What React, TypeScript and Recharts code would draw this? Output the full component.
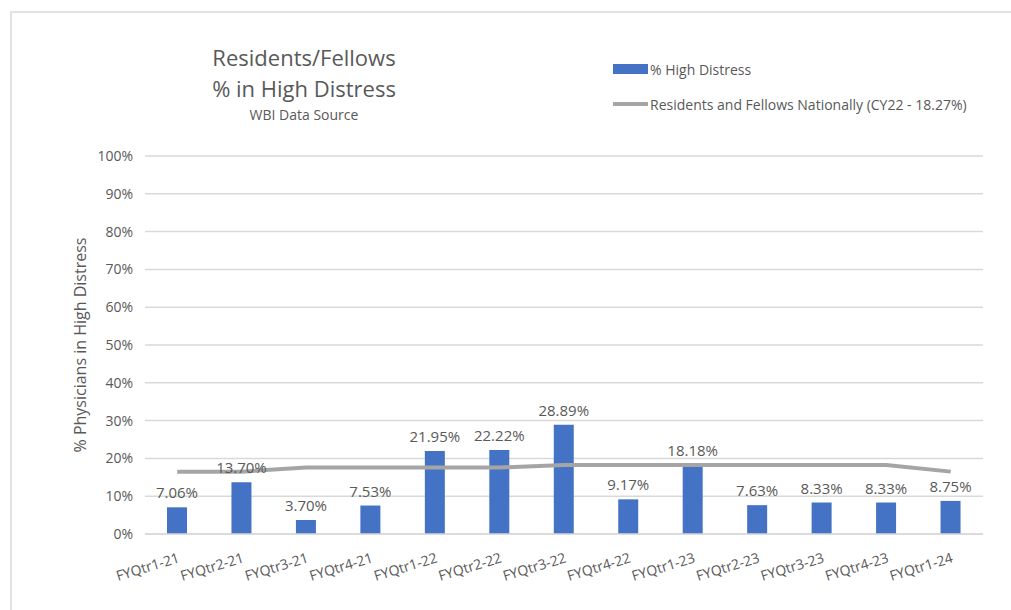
import React from "react";
import {
  ComposedChart,
  Bar,
  Line,
  XAxis,
  YAxis,
  CartesianGrid,
  LabelList,
} from "recharts";

const quarters = [
  "FYQtr1-21",
  "FYQtr2-21",
  "FYQtr3-21",
  "FYQtr4-21",
  "FYQtr1-22",
  "FYQtr2-22",
  "FYQtr3-22",
  "FYQtr4-22",
  "FYQtr1-23",
  "FYQtr2-23",
  "FYQtr3-23",
  "FYQtr4-23",
  "FYQtr1-24",
];
const highDistress = [7.06, 13.7, 3.7, 7.53, 21.95, 22.22, 28.89, 9.17, 18.18, 7.63, 8.33, 8.33, 8.75];
const national = [16.5, 16.5, 17.6, 17.6, 17.6, 17.6, 18.27, 18.27, 18.27, 18.27, 18.27, 18.27, 16.5];
const yTicks = [0, 10, 20, 30, 40, 50, 60, 70, 80, 90, 100];

const data = quarters.map((q, i) => ({
  quarter: q,
  distress: highDistress[i],
  national: national[i],
}));

const FONT = '"Open Sans", sans-serif';
const TEXT = "#595959";

// eslint-disable-next-line @typescript-eslint/no-explicit-any
const QuarterTick = ({ x, y, payload }: any) => (
  <g transform={`translate(${x + 3},${y + 20}) rotate(-17)`}>
    <text x={0} y={0} textAnchor="end" fill={TEXT} fontSize={14} fontFamily={FONT}>
      {payload.value}
    </text>
  </g>
);

export default function App() {
  return (
    <div
      style={{
        position: "fixed",
        left: 0,
        top: 0,
        width: 1011,
        height: 610,
        overflow: "hidden",
        background: "#fff",
        fontFamily: FONT,
        color: TEXT,
      }}
    >
      <div
        style={{
          position: "absolute",
          left: 10,
          top: 11,
          width: 1100,
          height: 700,
          border: "2px solid #E2E2E2",
        }}
      />

      <div style={{ position: "absolute", left: 204, top: 42, width: 200, textAlign: "center" }}>
        <div style={{ fontSize: 22, lineHeight: "31px" }}>Residents/Fellows</div>
        <div style={{ fontSize: 22, lineHeight: "31px" }}>% in High Distress</div>
        <div style={{ fontSize: 14, lineHeight: "22px" }}>WBI Data Source</div>
      </div>

      <div style={{ position: "absolute", left: 613, top: 60, fontSize: 14 }}>
        <div style={{ display: "flex", alignItems: "center", height: 18 }}>
          <div style={{ width: 35, height: 10, background: "#4472C4" }} />
          <span style={{ marginLeft: 2 }}>% High Distress</span>
        </div>
        <div style={{ display: "flex", alignItems: "center", height: 18, marginTop: 17 }}>
          <div style={{ width: 35, height: 4, background: "#A5A5A5" }} />
          <span style={{ marginLeft: 2 }}>Residents and Fellows Nationally (CY22 - 18.27%)</span>
        </div>
      </div>

      <div
        style={{
          position: "absolute",
          left: 80,
          top: 345,
          transform: "translate(-50%, -50%) rotate(-90deg)",
          whiteSpace: "nowrap",
          fontSize: 16,
        }}
      >
        % Physicians in High Distress
      </div>

      <div style={{ position: "absolute", left: 0, top: 0 }}>
        <ComposedChart
          width={1011}
          height={610}
          data={data}
          margin={{ top: 156, right: 28, left: 85, bottom: 16 }}
          barCategoryGap={0}
        >
          <CartesianGrid vertical={false} stroke="#D9D9D9" strokeWidth={1.5} />
          <XAxis
            dataKey="quarter"
            interval={0}
            height={60}
            tickLine={false}
            axisLine={{ stroke: "#D9D9D9", strokeWidth: 1.5 }}
            tick={<QuarterTick />}
          />
          <YAxis
            width={60}
            domain={[0, 100]}
            ticks={yTicks}
            tickLine={false}
            axisLine={false}
            tickFormatter={(v) => `${v}%`}
            tick={{ fill: TEXT, fontSize: 14, fontFamily: FONT, dx: -4 }}
          />
          <Bar dataKey="distress" fill="#4472C4" barSize={20} isAnimationActive={false}>
            <LabelList
              dataKey="distress"
              position="top"
              offset={9}
              formatter={(v: number) => `${v.toFixed(2)}%`}
              style={{ fill: TEXT, fontSize: 15, fontFamily: FONT }}
            />
          </Bar>
          <Line
            type="linear"
            dataKey="national"
            stroke="#A5A5A5"
            strokeWidth={4}
            dot={false}
            isAnimationActive={false}
          />
        </ComposedChart>
      </div>
    </div>
  );
}
